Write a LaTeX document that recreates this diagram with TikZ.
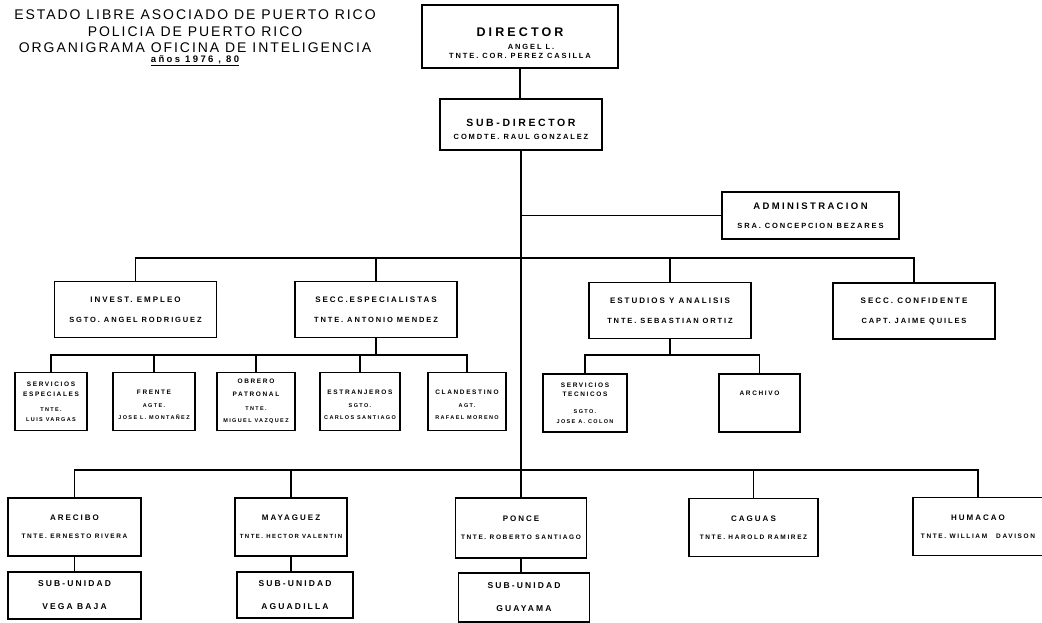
\documentclass[tikz,border=0pt]{standalone}
\usepackage{fontspec}
\setmainfont{Liberation Sans}
\newfontfamily\titlefont{Liberation Sans}[LetterSpace=14]
\newfontfamily\boxfont{Liberation Sans}[LetterSpace=25]

\tikzset{
  unit/.style={draw, line width=1.2pt, align=center, inner sep=0pt},
  topbox/.style={unit, font=\boxfont\bfseries\fontsize{7.5}{9}\selectfont},
  secbox/.style={unit, minimum width=162, minimum height=56, font=\boxfont\bfseries\fontsize{7.5}{9}\selectfont},
  smallbox/.style={unit, minimum height=58, font=\boxfont\bfseries\fontsize{5.5}{9}\selectfont},
  regbox/.style={unit, minimum height=58, font=\boxfont\bfseries\fontsize{6.5}{9}\selectfont},
  subunit/.style={unit, minimum height=47, font=\boxfont\bfseries\fontsize{8.5}{9}\selectfont},
  link/.style={line width=1.2pt}
}

\begin{document}
\begin{tikzpicture}[x=1pt, y=-1pt]
        \useasboundingbox (0,0) rectangle (1042,623);
        \clip (0,0) rectangle (1042,623);

            % Heading
            \node[font=\titlefont\fontsize{14}{16.5}\selectfont, align=center] (title) at (195,38)
              {ESTADO LIBRE ASOCIADO DE PUERTO RICO\\POLICIA DE PUERTO RICO\\ORGANIGRAMA OFICINA DE INTELIGENCIA\\[-7pt]{\boxfont\bfseries\fontsize{9.5}{9}\selectfont\underline{años 1976 , 80}}};

            % Director and sub-director
            \node[topbox, minimum width=196, minimum height=63] (dir) at (520,36.5)
              {\rule{0pt}{23pt}{\fontsize{12.5}{9}\selectfont DIRECTOR}\\[4pt]\hspace*{22pt}ANGEL L.\\TNTE. COR. PEREZ CASILLA};
            \node[topbox, minimum width=162, minimum height=51] (sub) at (521,124.5)
              {\rule{0pt}{18pt}{\fontsize{10.5}{9}\selectfont SUB-DIRECTOR}\\[4pt]COMDTE. RAUL GONZALEZ};

            % Administration
            \node[topbox, minimum width=177, minimum height=47] (adm) at (810.5,215.5)
              {{\fontsize{9.5}{9}\selectfont ADMINISTRACION}\\[10pt]SRA. CONCEPCION BEZARES};

            % Sections
            \node[secbox] (inv) at (135.5,309.5) {{\fontsize{8}{9}\selectfont INVEST. EMPLEO}\\[11pt]SGTO. ANGEL RODRIGUEZ};
            \node[secbox] (esp) at (376,309.5) {{\fontsize{8}{9}\selectfont SECC.ESPECIALISTAS}\\[11pt]TNTE. ANTONIO MENDEZ};
            \node[secbox] (est) at (670,310.5) {{\fontsize{8}{9}\selectfont ESTUDIOS Y ANALISIS}\\[11pt]TNTE. SEBASTIAN ORTIZ};
            \node[secbox] (conf) at (914,311) {{\fontsize{8}{9}\selectfont SECC. CONFIDENTE}\\[11pt]CAPT. JAIME QUILES};

            % Specialists
            \node[smallbox, minimum width=72] (sesp) at (51,401.5)
              {{\fontsize{6.5}{9}\selectfont SERVICIOS}\\[1pt]{\fontsize{6.5}{9}\selectfont ESPECIALES}\\[6pt]TNTE.\\[1pt]LUIS VARGAS};
            \node[smallbox, minimum width=82] (fre) at (154,401.5)
              {\rule{0pt}{12pt}{\fontsize{6.5}{9}\selectfont FRENTE}\\[4pt]AGTE.\\[3pt]JOSE L. MONTAÑEZ};
            \node[smallbox, minimum width=78] (obr) at (256,401.5)
              {{\fontsize{6.5}{9}\selectfont OBRERO}\\[4pt]{\fontsize{6.5}{9}\selectfont PATRONAL}\\[5pt]TNTE.\\[3pt]MIGUEL VAZQUEZ};
            \node[smallbox, minimum width=80] (ext) at (360,401.5)
              {\rule{0pt}{12pt}{\fontsize{6.5}{9}\selectfont ESTRANJEROS}\\[4pt]SGTO.\\[3pt]CARLOS SANTIAGO};
            \node[smallbox, minimum width=78] (cla) at (467,401.5)
              {\rule{0pt}{12pt}{\fontsize{6.5}{9}\selectfont CLANDESTINO}\\[4pt]AGT.\\[3pt]RAFAEL MORENO};

            % Studies
            \node[smallbox, minimum width=84] (stec) at (585,403)
              {{\fontsize{6.5}{9}\selectfont SERVICIOS}\\{\fontsize{6.5}{9}\selectfont TECNICOS}\\[8pt]SGTO.\\[1pt]JOSE A. COLON};
            \node[smallbox, minimum width=81] (arch) at (759.5,403)
              {{\fontsize{6.5}{9}\selectfont ARCHIVO}\rule[-20pt]{0pt}{20pt}};

            % Regional units
            \node[regbox, minimum width=133] (arec) at (74.5,527) {{\fontsize{8}{9}\selectfont ARECIBO}\\[9pt]TNTE. ERNESTO RIVERA};
            \node[regbox, minimum width=112] (may) at (291,527) {{\fontsize{8}{9}\selectfont MAYAGUEZ}\\[9pt]{\fontsize{6}{9}\selectfont TNTE. HECTOR VALENTIN}};
            \node[regbox, minimum width=131, minimum height=60] (pon) at (521,528) {{\fontsize{8}{9}\selectfont PONCE}\\[9pt]TNTE. ROBERTO SANTIAGO};
            \node[regbox, minimum width=129] (cag) at (753.5,527.5) {{\fontsize{8}{9}\selectfont CAGUAS}\\[9pt]TNTE. HAROLD RAMIREZ};
            \node[regbox, minimum width=130] (hum) at (978,526.5) {{\fontsize{8}{9}\selectfont HUMACAO}\\[9pt]TNTE. WILLIAM\hspace{9pt}DAVISON};

            % Sub-units
            \node[subunit, minimum width=133] (vb) at (74.5,595.5) {SUB-UNIDAD\\[14pt]VEGA BAJA};
            \node[subunit, minimum width=116, minimum height=46] (agu) at (295,595) {SUB-UNIDAD\\[14pt]AGUADILLA};
            \node[subunit, minimum width=131, minimum height=49] (guay) at (524,597.5) {SUB-UNIDAD\\[14pt]GUAYAMA};

            % Bus levels
            \coordinate (bus2) at (0,258);
            \coordinate (bus3) at (0,355);
            \coordinate (bus4) at (0,470);

            % Main line
            \draw[link] (dir.south) -- (dir.south |- sub.north);
            \draw[link] (sub.south) -- (sub.south |- bus4);
            \draw[link] (sub.south |- adm.west) -- (adm.west);

            % Sections line
            \draw[link] (inv.north) -- (inv.north |- bus2) -- (conf.north |- bus2) -- (conf.north);
            \draw[link] (esp.north) -- (esp.north |- bus2);
            \draw[link] (est.north) -- (est.north |- bus2);

            % Specialists line
            \draw[link] (esp.south) -- (esp.south |- bus3);
            \draw[link] (sesp.north) -- (sesp.north |- bus3) -- (cla.north |- bus3) -- (cla.north);
            \draw[link] (fre.north) -- (fre.north |- bus3);
            \draw[link] (obr.north) -- (obr.north |- bus3);
            \draw[link] (ext.north) -- (ext.north |- bus3);

            % Studies line
            \draw[link] (est.south) -- (est.south |- bus3);
            \draw[link] (stec.north) -- (stec.north |- bus3) -- (arch.north |- bus3) -- (arch.north);

            % Regions line
            \draw[link] (arec.north) -- (arec.north |- bus4) -- (hum.north |- bus4) -- (hum.north);
            \draw[link] (may.north) -- (may.north |- bus4);
            \draw[link] (pon.north) -- (pon.north |- bus4);
            \draw[link] (cag.north) -- (cag.north |- bus4);

            % Sub-unit links
            \draw[link] (arec.south) -- (arec.south |- vb.north);
            \draw[link] (may.south) -- (may.south |- agu.north);
            \draw[link] (pon.south) -- (pon.south |- guay.north);

\end{tikzpicture}
\end{document}
